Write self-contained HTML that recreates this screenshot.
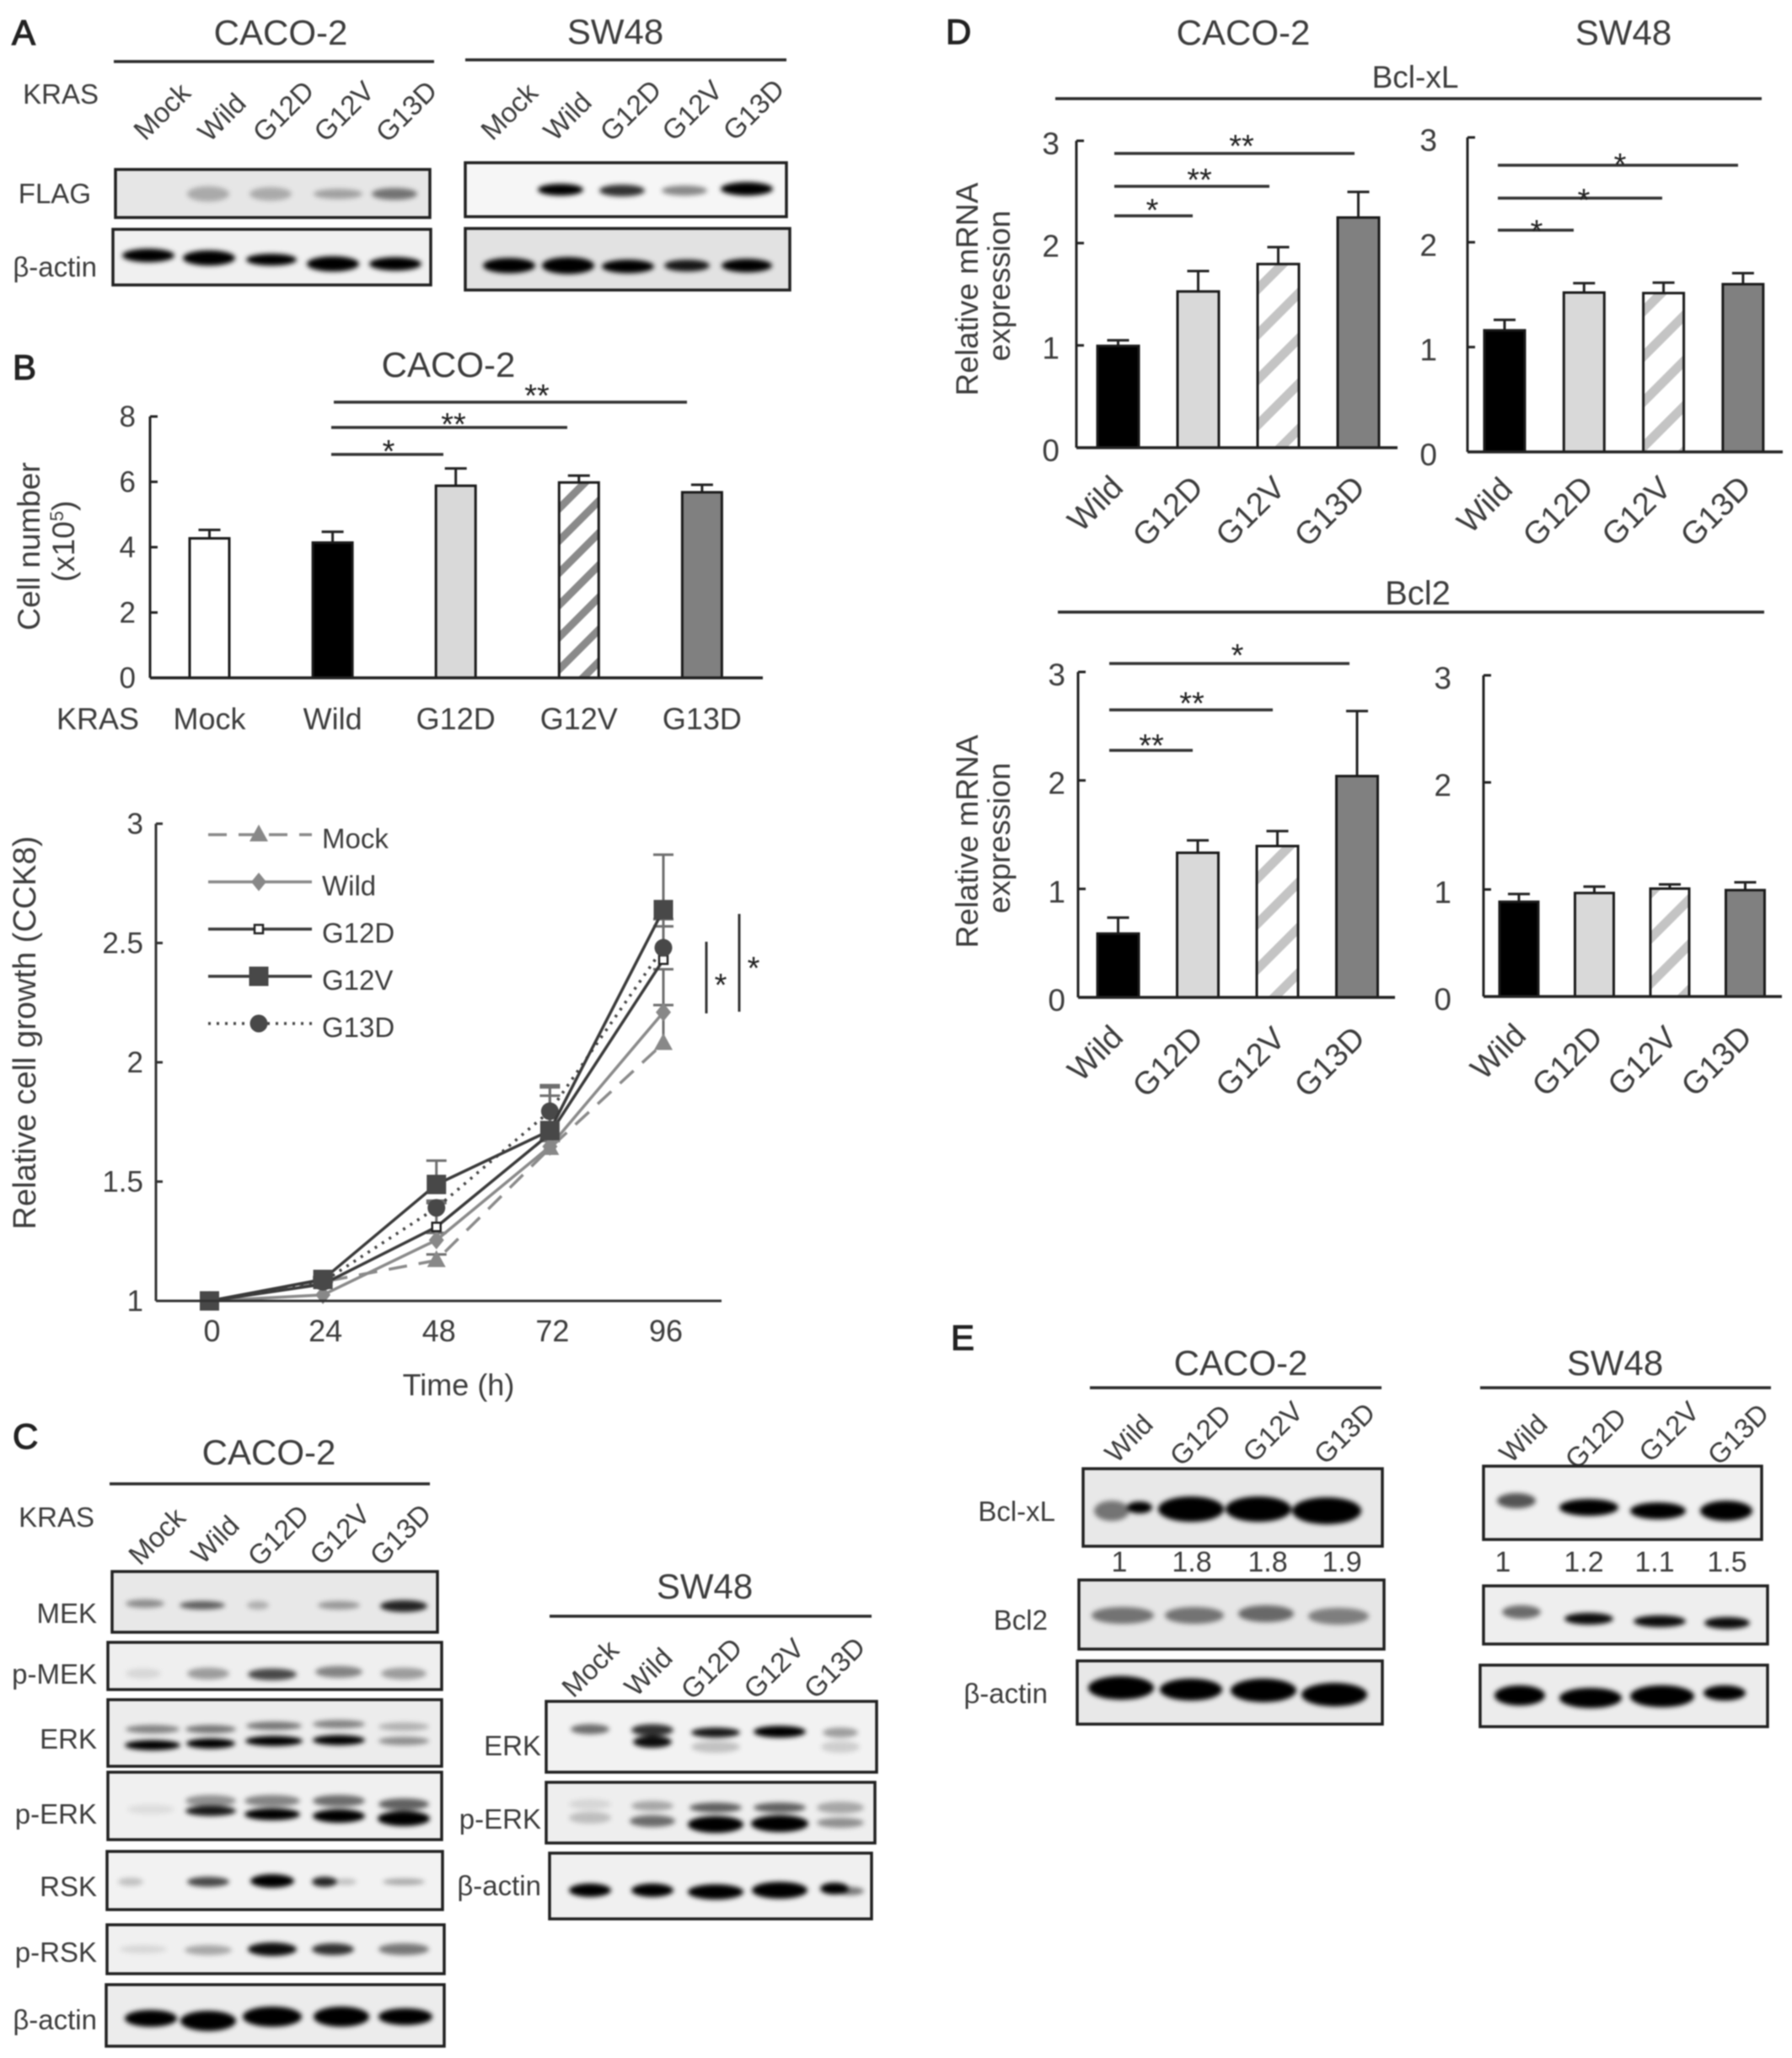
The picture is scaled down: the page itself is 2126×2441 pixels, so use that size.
<!DOCTYPE html>
<html lang="en">
<head>
<meta charset="utf-8">
<title>KRAS figure</title>
<style>
html,body{margin:0;padding:0;background:#fff;}
svg{display:block;filter:blur(.7px);}
text{font-family:"Liberation Sans",Arial,sans-serif;fill:#3c3c3c;}
.tt{font-size:42px;text-anchor:middle;}
.pl{font-size:42px;stroke:#222;stroke-width:1.2px;fill:#222;}
.lb{font-size:33px;text-anchor:end;}
.rt{font-size:33px;text-anchor:middle;dominant-baseline:central;}
.rd{font-size:38px;text-anchor:middle;dominant-baseline:central;}
.xl{font-size:36px;text-anchor:middle;}
.ax{font-size:37px;text-anchor:middle;}
.st{font-size:38px;text-anchor:middle;fill:#222;}
.hl{stroke:#2a2a2a;stroke-width:3.5;}
.sg{stroke:#333;stroke-width:3.5;}
.nm{font-size:34px;text-anchor:middle;}
rect.bl{stroke:#222;stroke-width:3.5;}
</style>
</head>
<body>
<svg id="fig" xmlns="http://www.w3.org/2000/svg" width="2126" height="2441" viewBox="0 0 2126 2441">
<defs>
<filter id="bb" x="-40%" y="-80%" width="180%" height="260%"><feGaussianBlur stdDeviation="3"/></filter>
<pattern id="hatchDark" patternUnits="userSpaceOnUse" width="27" height="27" patternTransform="rotate(-45)"><rect width="27" height="27" fill="#fff"/><rect width="27" height="9" fill="#8a8a8a"/></pattern>
<pattern id="hatchLight" patternUnits="userSpaceOnUse" width="38" height="38" patternTransform="rotate(-45)"><rect width="38" height="38" fill="#fff"/><rect width="38" height="11" fill="#c4c4c4"/></pattern>
</defs>
<rect width="2126" height="2441" fill="#fff"/>

<!-- Panel letters -->
<text class="pl" x="14" y="53">A</text>
<text class="pl" x="15" y="450">B</text>
<text class="pl" x="15" y="1718">C</text>
<text class="pl" x="1122" y="52">D</text>
<text class="pl" x="1128" y="1601">E</text>

<!-- Panel A -->
<g>
<text class="tt" x="333" y="53">CACO-2</text>
<text class="tt" x="730" y="52">SW48</text>
<line class="hl" x1="135" x2="515" y1="73" y2="73"/>
<line class="hl" x1="552" x2="933" y1="71" y2="71"/>
<text class="lb" x="117" y="123">KRAS</text>
<text class="rt" transform="translate(192 132) rotate(-45)">Mock</text>
<text class="rt" transform="translate(263 139) rotate(-45)">Wild</text>
<text class="rt" transform="translate(336 132) rotate(-45)">G12D</text>
<text class="rt" transform="translate(408 132) rotate(-45)">G12V</text>
<text class="rt" transform="translate(482 132) rotate(-45)">G13D</text>
<text class="rt" transform="translate(604 132) rotate(-45)">Mock</text>
<text class="rt" transform="translate(673 138) rotate(-45)">Wild</text>
<text class="rt" transform="translate(748 131) rotate(-45)">G12D</text>
<text class="rt" transform="translate(821 131) rotate(-45)">G12V</text>
<text class="rt" transform="translate(894 130) rotate(-45)">G13D</text>
<text class="lb" x="108" y="241">FLAG</text>
<text class="lb" x="115" y="328">β-actin</text>

<g><rect class="bl" x="137" y="201" width="373" height="57" fill="#e6e6e6"/><g filter="url(#bb)">
<ellipse cx="247" cy="230" rx="22" ry="9" fill-opacity=".26"/>
<ellipse cx="321" cy="230" rx="22" ry="8" fill-opacity=".26"/>
<ellipse cx="401" cy="230" rx="26" ry="6" fill-opacity=".3"/>
<ellipse cx="468" cy="230" rx="24" ry="7" fill-opacity=".5"/>
</g></g>
<g><rect class="bl" x="552" y="193" width="381" height="64" fill="#f6f6f6"/><g filter="url(#bb)">
<ellipse cx="665" cy="225" rx="24" ry="7"/>
<ellipse cx="738" cy="226" rx="24" ry="7" fill-opacity=".8"/>
<ellipse cx="812" cy="226" rx="24" ry="6" fill-opacity=".45"/>
<ellipse cx="886" cy="224" rx="28" ry="8"/>
</g></g>
<g><rect class="bl" x="134" y="272" width="377" height="66" fill="#f0f0f0"/><g filter="url(#bb)">
<ellipse cx="176" cy="303" rx="28" ry="8"/>
<ellipse cx="248" cy="306" rx="28" ry="9"/>
<ellipse cx="322" cy="308" rx="27" ry="7"/>
<ellipse cx="395" cy="313" rx="28" ry="9"/>
<ellipse cx="469" cy="313" rx="28" ry="8"/>
</g></g>
<g><rect class="bl" x="552" y="271" width="385" height="73" fill="#e2e2e2"/><g filter="url(#bb)">
<ellipse cx="604" cy="315" rx="28" ry="9"/>
<ellipse cx="674" cy="315" rx="28" ry="10"/>
<ellipse cx="745" cy="316" rx="28" ry="8"/>
<ellipse cx="815" cy="315" rx="24" ry="7" fill-opacity=".9"/>
<ellipse cx="886" cy="315" rx="27" ry="8"/>
</g></g>
</g>

<!-- Panel B annotations -->
<g>
<text class="tt" x="532" y="447">CACO-2</text>
<line class="sg" x1="396" x2="815" y1="477" y2="477"/>
<line class="sg" x1="393" x2="673" y1="507" y2="507"/>
<line class="sg" x1="393" x2="526" y1="539" y2="539"/>
<text class="st" x="637" y="482">**</text>
<text class="st" x="538" y="516">**</text>
<text class="st" x="461" y="548">*</text>
<text class="xl" x="116" y="865">KRAS</text>
<text class="ax" transform="translate(47 648) rotate(-90)">Cell number</text>
<text class="ax" font-size="36" transform="translate(88 642) rotate(-90)">(x10<tspan font-size="22" dy="-13">5</tspan><tspan dy="13">)</tspan></text>
</g>

<!-- Panel B line chart annotations -->
<g>
<text class="ax" style="font-size:38px" transform="translate(42 1225) rotate(-90)">Relative cell growth (CCK8)</text>
<text class="xl" x="544" y="1655">Time (h)</text>
<line stroke="#333" stroke-width="3" x1="838" x2="838" y1="1117" y2="1202"/>
<line stroke="#333" stroke-width="3" x1="877" x2="877" y1="1084" y2="1200"/>
<text class="st" x="855" y="1181">*</text>
<text class="st" x="894" y="1161">*</text>
</g>

<!-- Panel C -->
<g>
<text class="tt" x="319" y="1737">CACO-2</text>
<line class="hl" x1="130" x2="510" y1="1760" y2="1760"/>
<text class="lb" x="112" y="1811">KRAS</text>
<text class="rt" transform="translate(186 1822) rotate(-45)">Mock</text>
<text class="rt" transform="translate(255 1826) rotate(-45)">Wild</text>
<text class="rt" transform="translate(330 1821) rotate(-45)">G12D</text>
<text class="rt" transform="translate(403 1820) rotate(-45)">G12V</text>
<text class="rt" transform="translate(475 1820) rotate(-45)">G13D</text>
<text class="lb" x="115" y="1925">MEK</text>
<text class="lb" x="115" y="1997">p-MEK</text>
<text class="lb" x="115" y="2074">ERK</text>
<text class="lb" x="115" y="2163">p-ERK</text>
<text class="lb" x="115" y="2249">RSK</text>
<text class="lb" x="115" y="2327">p-RSK</text>
<text class="lb" x="115" y="2407">β-actin</text>

<g><rect class="bl" x="133" y="1864" width="386" height="72" fill="#e8e8e8"/><g filter="url(#bb)">
<ellipse cx="172" cy="1902" rx="20" ry="5" fill-opacity=".4"/>
<ellipse cx="240" cy="1904" rx="24" ry="5" fill-opacity=".6"/>
<ellipse cx="306" cy="1904" rx="10" ry="5" fill-opacity=".25"/>
<ellipse cx="402" cy="1904" rx="22" ry="5" fill-opacity=".35"/>
<ellipse cx="479" cy="1905" rx="25" ry="7" fill-opacity=".85"/>
</g></g>
<g><rect class="bl" x="128" y="1948" width="396" height="56" fill="#efefef"/><g filter="url(#bb)">
<ellipse cx="170" cy="1985" rx="18" ry="6" fill-opacity=".1"/>
<ellipse cx="247" cy="1985" rx="22" ry="7" fill-opacity=".35"/>
<ellipse cx="323" cy="1986" rx="26" ry="7" fill-opacity=".7"/>
<ellipse cx="402" cy="1983" rx="25" ry="7" fill-opacity=".45"/>
<ellipse cx="479" cy="1985" rx="24" ry="7" fill-opacity=".35"/>
</g></g>
<g><rect class="bl" x="128" y="2016" width="396" height="79" fill="#ececec"/><g filter="url(#bb)">
<ellipse cx="181" cy="2051" rx="29" ry="5" fill-opacity=".45"/>
<ellipse cx="250" cy="2051" rx="27" ry="5" fill-opacity=".5"/>
<ellipse cx="325" cy="2047" rx="30" ry="5" fill-opacity=".5"/>
<ellipse cx="402" cy="2045" rx="28" ry="5" fill-opacity=".45"/>
<ellipse cx="479" cy="2048" rx="27" ry="5" fill-opacity=".25"/>
<ellipse cx="181" cy="2070" rx="30" ry="6"/>
<ellipse cx="250" cy="2068" rx="26" ry="6"/>
<ellipse cx="325" cy="2065" rx="31" ry="6"/>
<ellipse cx="402" cy="2064" rx="28" ry="6"/>
<ellipse cx="479" cy="2065" rx="27" ry="5" fill-opacity=".4"/>
</g></g>
<g><rect class="bl" x="128" y="2102" width="396" height="80" fill="#f0f0f0"/><g filter="url(#bb)">
<ellipse cx="179" cy="2146" rx="25" ry="6" fill-opacity=".08"/>
<ellipse cx="250" cy="2136" rx="27" ry="7" fill-opacity=".4"/>
<ellipse cx="250" cy="2148" rx="27" ry="6" fill-opacity=".9"/>
<ellipse cx="323" cy="2136" rx="30" ry="7" fill-opacity=".45"/>
<ellipse cx="323" cy="2152" rx="30" ry="7"/>
<ellipse cx="402" cy="2136" rx="28" ry="7" fill-opacity=".55"/>
<ellipse cx="402" cy="2154" rx="28" ry="8"/>
<ellipse cx="479" cy="2140" rx="27" ry="7" fill-opacity=".6"/>
<ellipse cx="479" cy="2157" rx="28" ry="9"/>
</g></g>
<g><rect class="bl" x="127" y="2196" width="398" height="69" fill="#f2f2f2"/><g filter="url(#bb)">
<ellipse cx="155" cy="2232" rx="12" ry="5" fill-opacity=".2"/>
<ellipse cx="247" cy="2232" rx="22" ry="6" fill-opacity=".7"/>
<ellipse cx="323" cy="2231" rx="23" ry="8"/>
<ellipse cx="385" cy="2232" rx="12" ry="6" fill-opacity=".85"/>
<ellipse cx="410" cy="2232" rx="10" ry="4" fill-opacity=".2"/>
<ellipse cx="479" cy="2232" rx="22" ry="4" fill-opacity=".3"/>
</g></g>
<g><rect class="bl" x="127" y="2283" width="400" height="58" fill="#f0f0f0"/><g filter="url(#bb)">
<ellipse cx="170" cy="2312" rx="25" ry="5" fill-opacity=".1"/>
<ellipse cx="247" cy="2313" rx="25" ry="6" fill-opacity=".3"/>
<ellipse cx="323" cy="2312" rx="26" ry="8" fill-opacity=".95"/>
<ellipse cx="395" cy="2312" rx="22" ry="7" fill-opacity=".8"/>
<ellipse cx="479" cy="2312" rx="27" ry="7" fill-opacity=".5"/>
</g></g>
<g><rect class="bl" x="126" y="2354" width="401" height="73" fill="#ececec"/><g filter="url(#bb)">
<ellipse cx="179" cy="2394" rx="28" ry="10"/>
<ellipse cx="247" cy="2397" rx="30" ry="12"/>
<ellipse cx="323" cy="2392" rx="32" ry="12"/>
<ellipse cx="405" cy="2392" rx="30" ry="12"/>
<ellipse cx="481" cy="2392" rx="29" ry="10"/>
</g></g>

<text class="tt" x="836" y="1896">SW48</text>
<line class="hl" x1="652" x2="1034" y1="1917" y2="1917"/>
<text class="rt" transform="translate(700 1979) rotate(-45)">Mock</text>
<text class="rt" transform="translate(769 1983) rotate(-45)">Wild</text>
<text class="rt" transform="translate(844 1979) rotate(-45)">G12D</text>
<text class="rt" transform="translate(918 1979) rotate(-45)">G12V</text>
<text class="rt" transform="translate(990 1978) rotate(-45)">G13D</text>
<text class="lb" x="642" y="2082">ERK</text>
<text class="lb" x="642" y="2169">p-ERK</text>
<text class="lb" x="642" y="2248">β-actin</text>
<g><rect class="bl" x="648" y="2018" width="392" height="84" fill="#f2f2f2"/><g filter="url(#bb)">
<ellipse cx="700" cy="2051" rx="20" ry="6" fill-opacity=".55"/>
<ellipse cx="774" cy="2052" rx="22" ry="7" fill-opacity=".8"/>
<ellipse cx="774" cy="2066" rx="20" ry="7" fill-opacity=".95"/>
<ellipse cx="849" cy="2055" rx="26" ry="6" fill-opacity=".9"/>
<ellipse cx="849" cy="2072" rx="26" ry="7" fill-opacity=".2"/>
<ellipse cx="925" cy="2054" rx="28" ry="7"/>
<ellipse cx="997" cy="2055" rx="18" ry="6" fill-opacity=".35"/>
<ellipse cx="997" cy="2072" rx="20" ry="7" fill-opacity=".15"/>
</g></g>
<g><rect class="bl" x="648" y="2114" width="390" height="72" fill="#eeeeee"/><g filter="url(#bb)">
<ellipse cx="700" cy="2156" rx="22" ry="7" fill-opacity=".2"/>
<ellipse cx="700" cy="2140" rx="22" ry="6" fill-opacity=".1"/>
<ellipse cx="774" cy="2142" rx="22" ry="6" fill-opacity=".3"/>
<ellipse cx="774" cy="2160" rx="24" ry="7" fill-opacity=".55"/>
<ellipse cx="849" cy="2144" rx="28" ry="6" fill-opacity=".6"/>
<ellipse cx="849" cy="2164" rx="30" ry="10"/>
<ellipse cx="925" cy="2144" rx="28" ry="6" fill-opacity=".6"/>
<ellipse cx="925" cy="2163" rx="31" ry="10"/>
<ellipse cx="997" cy="2144" rx="25" ry="7" fill-opacity=".3"/>
<ellipse cx="997" cy="2162" rx="25" ry="6" fill-opacity=".4"/>
</g></g>
<g><rect class="bl" x="652" y="2198" width="382" height="78" fill="#f0f0f0"/><g filter="url(#bb)">
<ellipse cx="700" cy="2242" rx="22" ry="8"/>
<ellipse cx="774" cy="2242" rx="22" ry="8"/>
<ellipse cx="849" cy="2244" rx="30" ry="9"/>
<ellipse cx="925" cy="2242" rx="30" ry="10"/>
<ellipse cx="990" cy="2240" rx="14" ry="7"/>
<ellipse cx="1008" cy="2243" rx="14" ry="5" fill-opacity=".5"/>
</g></g>
</g>

<!-- Panel D annotations -->
<g>
<text class="tt" x="1475" y="53">CACO-2</text>
<text class="tt" x="1926" y="53">SW48</text>
<text class="tt" style="font-size:37px" x="1679" y="104">Bcl-xL</text>
<line class="hl" x1="1252" x2="2090" y1="117" y2="117"/>
<text class="tt" style="font-size:40px" x="1682" y="717">Bcl2</text>
<line class="hl" x1="1255" x2="2093" y1="726" y2="726"/>

<text class="ax" transform="translate(1160 343) rotate(-90)">Relative mRNA</text>
<text class="ax" transform="translate(1198 339) rotate(-90)">expression</text>
<text class="ax" transform="translate(1160 998) rotate(-90)">Relative mRNA</text>
<text class="ax" transform="translate(1198 994) rotate(-90)">expression</text>

<line class="sg" x1="1322" x2="1607" y1="182" y2="182"/>
<line class="sg" x1="1322" x2="1506" y1="221" y2="221"/>
<line class="sg" x1="1322" x2="1415" y1="256" y2="256"/>
<text class="st" x="1473" y="186">**</text>
<text class="st" x="1423" y="226">**</text>
<text class="st" x="1367" y="262">*</text>
<line class="sg" x1="1777" x2="2062" y1="196" y2="196"/>
<line class="sg" x1="1777" x2="1972" y1="235" y2="235"/>
<line class="sg" x1="1777" x2="1867" y1="273" y2="273"/>
<text class="st" x="1922" y="208">*</text>
<text class="st" x="1879" y="250">*</text>
<text class="st" x="1823" y="287">*</text>
<line class="sg" x1="1316" x2="1601" y1="787" y2="787"/>
<line class="sg" x1="1316" x2="1510" y1="842" y2="842"/>
<line class="sg" x1="1316" x2="1415" y1="890" y2="890"/>
<text class="st" x="1468" y="790">*</text>
<text class="st" x="1414" y="847">**</text>
<text class="st" x="1366" y="897">**</text>

<text class="rd" transform="translate(1300 598) rotate(-45)">Wild</text>
<text class="rd" transform="translate(1386 607) rotate(-45)">G12D</text>
<text class="rd" transform="translate(1484 607) rotate(-45)">G12V</text>
<text class="rd" transform="translate(1578 607) rotate(-45)">G13D</text>
<text class="rd" transform="translate(1762 600) rotate(-45)">Wild</text>
<text class="rd" transform="translate(1849 607) rotate(-45)">G12D</text>
<text class="rd" transform="translate(1942 607) rotate(-45)">G12V</text>
<text class="rd" transform="translate(2036 607) rotate(-45)">G13D</text>
<text class="rd" transform="translate(1300 1250) rotate(-45)">Wild</text>
<text class="rd" transform="translate(1386 1260) rotate(-45)">G12D</text>
<text class="rd" transform="translate(1484 1260) rotate(-45)">G12V</text>
<text class="rd" transform="translate(1578 1260) rotate(-45)">G13D</text>
<text class="rd" transform="translate(1778 1248) rotate(-45)">Wild</text>
<text class="rd" transform="translate(1860 1259) rotate(-45)">G12D</text>
<text class="rd" transform="translate(1949 1259) rotate(-45)">G12V</text>
<text class="rd" transform="translate(2037 1259) rotate(-45)">G13D</text>
</g>

<!-- Panel E -->
<g>
<text class="tt" x="1472" y="1631">CACO-2</text>
<text class="tt" x="1916" y="1631">SW48</text>
<line class="hl" x1="1293" x2="1639" y1="1646" y2="1646"/>
<line class="hl" x1="1756" x2="2101" y1="1646" y2="1646"/>
<text class="rt" transform="translate(1339 1706) rotate(-45)">Wild</text>
<text class="rt" transform="translate(1424 1702) rotate(-45)">G12D</text>
<text class="rt" transform="translate(1510 1698) rotate(-45)">G12V</text>
<text class="rt" transform="translate(1595 1700) rotate(-45)">G13D</text>
<text class="rt" transform="translate(1807 1706) rotate(-45)">Wild</text>
<text class="rt" transform="translate(1893 1706) rotate(-45)">G12D</text>
<text class="rt" transform="translate(1980 1698) rotate(-45)">G12V</text>
<text class="rt" transform="translate(2062 1701) rotate(-45)">G13D</text>
<text class="lb" x="1252" y="1804">Bcl-xL</text>
<text class="lb" x="1243" y="1933">Bcl2</text>
<text class="lb" x="1243" y="2020">β-actin</text>
<text class="nm" x="1328" y="1864">1</text>
<text class="nm" x="1414" y="1864">1.8</text>
<text class="nm" x="1504" y="1864">1.8</text>
<text class="nm" x="1592" y="1864">1.9</text>
<text class="nm" x="1783" y="1864">1</text>
<text class="nm" x="1879" y="1864">1.2</text>
<text class="nm" x="1963" y="1864">1.1</text>
<text class="nm" x="2049" y="1864">1.5</text>

<g><rect class="bl" x="1285" y="1742" width="355" height="92" fill="#e8e8e8"/><g filter="url(#bb)">
<ellipse cx="1319" cy="1792" rx="18" ry="12" fill-opacity=".5"/>
<ellipse cx="1352" cy="1788" rx="12" ry="7"/>
<ellipse cx="1413" cy="1790" rx="36" ry="15"/>
<ellipse cx="1493" cy="1790" rx="36" ry="15"/>
<ellipse cx="1574" cy="1792" rx="38" ry="16"/>
</g></g>
<g><rect class="bl" x="1760" y="1739" width="330" height="87" fill="#f0f0f0"/><g filter="url(#bb)">
<ellipse cx="1799" cy="1780" rx="20" ry="9" fill-opacity=".65"/>
<ellipse cx="1885" cy="1788" rx="32" ry="10"/>
<ellipse cx="1967" cy="1792" rx="30" ry="10"/>
<ellipse cx="2048" cy="1792" rx="28" ry="12"/>
</g></g>
<g><rect class="bl" x="1280" y="1874" width="362" height="82" fill="#e6e6e6"/><g filter="url(#bb)">
<ellipse cx="1332" cy="1916" rx="34" ry="10" fill-opacity=".5"/>
<ellipse cx="1417" cy="1916" rx="32" ry="10" fill-opacity=".5"/>
<ellipse cx="1502" cy="1914" rx="30" ry="10" fill-opacity=".55"/>
<ellipse cx="1588" cy="1917" rx="33" ry="10" fill-opacity=".45"/>
</g></g>
<g><rect class="bl" x="1760" y="1881" width="337" height="69" fill="#eeeeee"/><g filter="url(#bb)">
<ellipse cx="1805" cy="1912" rx="20" ry="8" fill-opacity=".55"/>
<ellipse cx="1885" cy="1920" rx="26" ry="7" fill-opacity=".95"/>
<ellipse cx="1969" cy="1923" rx="28" ry="7" fill-opacity=".95"/>
<ellipse cx="2049" cy="1925" rx="24" ry="7" fill-opacity=".95"/>
</g></g>
<g><rect class="bl" x="1278" y="1970" width="362" height="75" fill="#e8e8e8"/><g filter="url(#bb)">
<ellipse cx="1330" cy="2002" rx="36" ry="14"/>
<ellipse cx="1413" cy="2004" rx="34" ry="13"/>
<ellipse cx="1499" cy="2005" rx="36" ry="14"/>
<ellipse cx="1583" cy="2010" rx="36" ry="14"/>
</g></g>
<g><rect class="bl" x="1756" y="1975" width="341" height="73" fill="#ececec"/><g filter="url(#bb)">
<ellipse cx="1803" cy="2011" rx="27" ry="12"/>
<ellipse cx="1887" cy="2014" rx="34" ry="12"/>
<ellipse cx="1972" cy="2012" rx="35" ry="13"/>
<ellipse cx="2046" cy="2008" rx="22" ry="9"/>
</g></g>
</g>

<g id="charts"></g>
</svg>

<script>
// ---- Panel B bar chart data ----
const countCategories = ['Mock', 'Wild', 'G12D', 'G12V', 'G13D'];
const countValues = [4.27, 4.14, 5.88, 5.98, 5.68];
const countErrors = [0.26, 0.33, 0.53, 0.21, 0.23];
const countTicks = [0, 2, 4, 6, 8];

// ---- Panel B line chart data ----
const timeHours = [0, 24, 48, 72, 96];
const growthTicks = [1, 1.5, 2, 2.5, 3];
const growthSeriesNames = ['Mock', 'Wild', 'G12D', 'G13D', 'G12V'];
const growthMock = [1, 1.08, 1.17, 1.64, 2.08];
const growthWild = [1, 1.025, 1.255, 1.647, 2.21];
const growthG12D = [1, 1.07, 1.31, 1.70, 2.43];
const growthG13D = [1, 1.08, 1.39, 1.795, 2.48];
const growthG12V = [1, 1.09, 1.488, 1.714, 2.64];
const growthErrMock = [0, 0, 0.025, 0.03, 0.16];
const growthErrWild = [0, 0, 0.03, 0.03, 0.18];
const growthErrG12D = [0, 0.01, 0.1, 0.16, 0.17];
const growthErrG13D = [0, 0.01, 0.03, 0.1, 0.09];
const growthErrG12V = [0, 0.01, 0.1, 0.19, 0.23];

// ---- Panel D bar chart data ----
const mrnaCategories = ['Wild', 'G12D', 'G12V', 'G13D'];
const mrnaTicks = [0, 1, 2, 3];
const bclxlCacoValues = [0.995, 1.527, 1.795, 2.25];
const bclxlCacoErrors = [0.055, 0.2, 0.165, 0.25];
const bclxlSwValues = [1.16, 1.52, 1.515, 1.6];
const bclxlSwErrors = [0.1, 0.09, 0.1, 0.105];
const bcl2CacoValues = [0.588, 1.333, 1.395, 2.04];
const bcl2CacoErrors = [0.147, 0.115, 0.138, 0.6];
const bcl2SwValues = [0.885, 0.967, 1.008, 0.994];
const bcl2SwErrors = [0.073, 0.06, 0.039, 0.073];

const NS = 'http://www.w3.org/2000/svg';
const root = document.getElementById('charts');

// blot bands render narrower once blurred, so widen them slightly
document.querySelectorAll('ellipse').forEach(e => e.setAttribute('rx', +e.getAttribute('rx') + 3));

function mk(tag, attrs, parent) {
  const el = document.createElementNS(NS, tag);
  for (const k in attrs) el.setAttribute(k, attrs[k]);
  (parent || root).appendChild(el);
  return el;
}
function linear(d0, d1, r0, r1) {
  return v => r0 + (v - d0) * (r1 - r0) / (d1 - d0);
}

function drawBarChart(layout, name, categories, values, errors, ticks, fills) {
  const g = mk('g', {});
  
  
  const y = linear(0, ticks[ticks.length - 1], layout.y0, layout.y1);
  const x = i => layout.first + i * layout.step;

  categories.forEach((cat, i) => {
    const top = y(values[i]);
    const whisker = y(values[i] + errors[i]);
    const err = mk('line', {x1: x(i), x2: x(i), y1: top, y2: whisker, stroke: '#222', 'stroke-width': 3}, g);
    
    
    const cap = mk('line', {x1: x(i) - 13, x2: x(i) + 13, y1: whisker, y2: whisker, stroke: '#222', 'stroke-width': 3}, g);
    
    
    const bar = mk('rect', {x: x(i) - layout.barW / 2, y: top, width: layout.barW, height: layout.y0 - top, fill: fills[i], stroke: '#1a1a1a', 'stroke-width': 3}, g);
    
    
    if (layout.xLabelY) {
      const catLabel = mk('text', {x: x(i), y: layout.xLabelY, 'text-anchor': 'middle', 'font-size': 36}, g);
      
      
      catLabel.textContent = cat;
    }
  });

  const yAxis = mk('line', {x1: layout.axisX, x2: layout.axisX, y1: layout.y1, y2: layout.y0, stroke: '#222', 'stroke-width': 3}, g);
  
  
  const xAxis = mk('line', {x1: layout.axisX, x2: layout.axisEnd, y1: layout.y0, y2: layout.y0, stroke: '#222', 'stroke-width': 3.5}, g);
  
  

  ticks.forEach(t => {
    const tick = mk('line', {x1: layout.axisX, x2: layout.axisX + 9, y1: y(t), y2: y(t), stroke: '#222', 'stroke-width': 3}, g);
    
    
    const label = mk('text', {x: layout.labelX, y: y(t) + layout.labelDy, 'text-anchor': 'end', 'font-size': layout.labelSize}, g);
    
    
    label.textContent = t;
  });
}

const countFills = ['#fff', '#000', '#d9d9d9', 'url(#hatchDark)', '#808080'];
const mrnaFills = ['#000', '#d9d9d9', 'url(#hatchLight)', '#808080'];

drawBarChart({axisX: 178, axisEnd: 905, y0: 804, y1: 494, first: 248.5, step: 146.1, barW: 47, labelX: 161, labelDy: 12, labelSize: 35, xLabelY: 865},
  'cell-number-bar-chart', countCategories, countValues, countErrors, countTicks, countFills);
drawBarChart({axisX: 1277, axisEnd: 1658, y0: 531, y1: 167, first: 1326.5, step: 95, barW: 49, labelX: 1257, labelDy: 16, labelSize: 37},
  'bclxl-caco2-bar-chart', mrnaCategories, bclxlCacoValues, bclxlCacoErrors, mrnaTicks, mrnaFills);
drawBarChart({axisX: 1741, axisEnd: 2115, y0: 536, y1: 163, first: 1785, step: 94.3, barW: 48, labelX: 1705, labelDy: 16, labelSize: 37},
  'bclxl-sw48-bar-chart', mrnaCategories, bclxlSwValues, bclxlSwErrors, mrnaTicks, mrnaFills);
drawBarChart({axisX: 1279, axisEnd: 1655, y0: 1183, y1: 797, first: 1326.5, step: 94.5, barW: 49, labelX: 1264, labelDy: 16, labelSize: 37},
  'bcl2-caco2-bar-chart', mrnaCategories, bcl2CacoValues, bcl2CacoErrors, mrnaTicks, mrnaFills);
drawBarChart({axisX: 1760, axisEnd: 2114, y0: 1182, y1: 801, first: 1802, step: 89.5, barW: 46, labelX: 1722, labelDy: 16, labelSize: 37},
  'bcl2-sw48-bar-chart', mrnaCategories, bcl2SwValues, bcl2SwErrors, mrnaTicks, mrnaFills);

// ---- line chart ----
const growthX = linear(0, 96, 248.5, 787);
const growthY = linear(1, 3, 1543, 977);

const seriesStyle = {
  Mock: {color: '#8a8a8a', width: 3.5, dash: '22 14', marker: 'triangle'},
  Wild: {color: '#8a8a8a', width: 3.5, dash: '', marker: 'diamond'},
  G12D: {color: '#3a3a3a', width: 3.5, dash: '', marker: 'open-square'},
  G13D: {color: '#444', width: 3.5, dash: '3 7', marker: 'circle'},
  G12V: {color: '#3a3a3a', width: 3.5, dash: '', marker: 'square'}
};
const seriesValues = {Mock: growthMock, Wild: growthWild, G12D: growthG12D, G13D: growthG13D, G12V: growthG12V};
const seriesErrors = {Mock: growthErrMock, Wild: growthErrWild, G12D: growthErrG12D, G13D: growthErrG13D, G12V: growthErrG12V};

function drawMarker(kind, cx, cy, parent) {
  let m;
  if (kind === 'triangle') {
    m = mk('polygon', {points: [cx, cy - 12, cx + 11, cy + 8, cx - 11, cy + 8].join(','), fill: '#888'}, parent);
  } else if (kind === 'diamond') {
    m = mk('polygon', {points: [cx, cy - 11, cx + 9, cy, cx, cy + 11, cx - 9, cy].join(','), fill: '#888'}, parent);
  } else if (kind === 'open-square') {
    m = mk('rect', {x: cx - 5, y: cy - 5, width: 10, height: 10, fill: '#fff', stroke: '#222', 'stroke-width': 2.5}, parent);
  } else if (kind === 'circle') {
    m = mk('circle', {cx: cx, cy: cy, r: 10.5, fill: '#484848'}, parent);
  } else {
    m = mk('rect', {x: cx - 11.5, y: cy - 11.5, width: 23, height: 23, fill: '#484848'}, parent);
  }
  
  
}

const lineChart = mk('g', {});



growthSeriesNames.forEach(name => {
  const vals = seriesValues[name];
  const errs = seriesErrors[name];
  timeHours.forEach((t, i) => {
    if (errs[i] <= 0) return;
    const whisker = mk('line', {x1: growthX(t), x2: growthX(t), y1: growthY(vals[i]), y2: growthY(vals[i] + errs[i]), stroke: '#6e6e6e', 'stroke-width': 3}, lineChart);
    
    
    const cap = mk('line', {x1: growthX(t) - 12, x2: growthX(t) + 12, y1: growthY(vals[i] + errs[i]), y2: growthY(vals[i] + errs[i]), stroke: '#6e6e6e', 'stroke-width': 3}, lineChart);
    
    
  });
});

growthSeriesNames.forEach(name => {
  const style = seriesStyle[name];
  const vals = seriesValues[name];
  const pts = timeHours.map((t, i) => growthX(t) + ',' + growthY(vals[i])).join(' ');
  const line = mk('polyline', {points: pts, fill: 'none', stroke: style.color, 'stroke-width': style.width, 'stroke-dasharray': style.dash}, lineChart);
  
  
  timeHours.forEach((t, i) => drawMarker(style.marker, growthX(t), growthY(vals[i]), lineChart));
});

const growthYAxis = mk('line', {x1: 185, x2: 185, y1: growthY(3), y2: growthY(1), stroke: '#333', 'stroke-width': 3}, lineChart);


const growthXAxis = mk('line', {x1: 185, x2: 856, y1: growthY(1), y2: growthY(1), stroke: '#333', 'stroke-width': 3}, lineChart);



growthTicks.forEach(t => {
  const tick = mk('line', {x1: 185, x2: 193, y1: growthY(t), y2: growthY(t), stroke: '#333', 'stroke-width': 3}, lineChart);
  
  
  const label = mk('text', {x: 170, y: growthY(t) + 12, 'text-anchor': 'end', 'font-size': 35}, lineChart);
  
  
  label.textContent = t;
});
timeHours.forEach(t => {
  const label = mk('text', {x: growthX(t) + 3, y: 1591, 'text-anchor': 'middle', 'font-size': 36}, lineChart);
  
  
  label.textContent = t;
});

// legend: listed in reading order
const legendOrder = ['Mock', 'Wild', 'G12D', 'G12V', 'G13D'];
const legend = mk('g', {});


legendOrder.forEach((name, i) => {
  const style = seriesStyle[name];
  const ly = 990 + i * 56;
  const entry = mk('g', {}, legend);
  
  
  const sample = mk('line', {x1: 247, x2: 370, y1: ly, y2: ly, stroke: style.color, 'stroke-width': style.width, 'stroke-dasharray': style.dash}, entry);
  
  
  drawMarker(style.marker, 307, ly, entry);
  const label = mk('text', {x: 382, y: ly + 16, 'font-size': 33}, entry);
  
  
  label.textContent = name;
});
</script>
</body>
</html>
